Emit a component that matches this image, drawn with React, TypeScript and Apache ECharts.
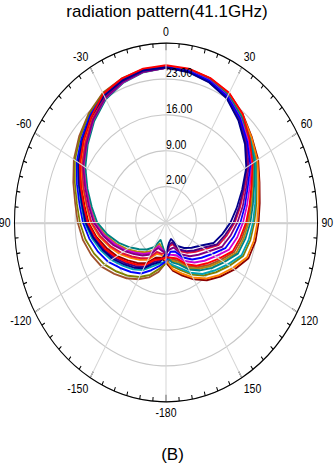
import React, { useEffect, useRef } from 'react';
import * as echarts from 'echarts';

// Angles (degrees) of every sample, -180 .. 180, step 10
const ANGLES = [
  -180, -170, -160, -150, -140, -130, -120, -110, -100, -90, -80, -70, -60, -50, -40, -30, -20, -10,
  0, 10, 20, 30, 40, 50, 60, 70, 80, 90, 100, 110, 120, 130, 140, 150, 160, 170, 180,
];

// Radial axis
const R_MIN = -5;
const R_MAX = 30;
const R_STEP = 7;
// Angle axis
const A_MIN = -180;
const A_MAX = 180;
const A_STEP = 30;

const TITLE = 'radiation pattern(41.1GHz)';
const CAPTION = '(B)';

// Series values (dB), one per angle above
const BROWN = [2.8, 4.8, 6.4, 7.8, 9.2, 10.6, 12.2, 13.4, 14.5, 15.4, 16.3, 17.8, 19.6, 21.2, 22.8, 24.2, 24.9, 25.4, 25.5, 25.2, 24.6, 23.7, 22.0, 20.1, 18.3, 16.2, 14.8, 13.8, 12.8, 11.8, 9.6, 7.9, 6.4, 4.8, 2.9, 2.3, 2.8];
const OLIVE = [3.0, 4.2, 5.9, 7.3, 8.6, 9.9, 11.4, 12.7, 13.9, 14.9, 15.9, 17.4, 19.3, 20.9, 22.6, 24.1, 24.8, 25.3, 25.5, 25.3, 24.8, 23.9, 22.4, 20.6, 19.1, 17.3, 16.2, 15.4, 14.8, 14.0, 11.9, 10.1, 8.5, 6.7, 4.9, 3.7, 3.0];
const DARKRED = [2.8, 2.0, 2.4, 4.2, 5.3, 6.5, 8.1, 9.6, 11.3, 12.9, 14.1, 15.8, 17.9, 19.7, 21.7, 23.4, 24.4, 25.1, 25.4, 25.4, 24.9, 24.1, 22.6, 20.9, 19.6, 18.0, 17.0, 16.4, 16.0, 15.3, 13.3, 11.4, 9.7, 7.8, 6.0, 4.6, 2.8];
const GOLD = [1.5, 0.1, -0.6, 1.4, 2.6, 3.8, 5.4, 7.2, 9.2, 11.3, 12.7, 14.6, 16.8, 18.8, 21.0, 22.9, 24.1, 24.9, 25.2, 25.2, 24.6, 23.7, 22.0, 20.2, 18.5, 16.5, 15.1, 14.1, 13.2, 12.3, 10.0, 8.3, 6.8, 5.2, 3.3, 2.6, 1.5];
const CYAN = [2.6, 3.1, 4.1, 5.7, 6.9, 8.1, 9.6, 11.0, 12.4, 13.8, 14.9, 16.5, 18.5, 20.3, 22.1, 23.7, 24.6, 25.2, 25.3, 25.3, 24.7, 23.9, 22.3, 20.5, 18.9, 17.1, 15.9, 15.1, 14.4, 13.6, 11.4, 9.6, 8.1, 6.3, 4.5, 3.4, 2.6];
const ORANGE = [2.4, 1.4, 1.5, 3.4, 4.5, 5.7, 7.3, 8.9, 10.7, 12.4, 13.7, 15.5, 17.6, 19.5, 21.5, 23.3, 24.3, 25.0, 25.3, 25.4, 24.9, 24.0, 22.5, 20.8, 19.4, 17.8, 16.7, 16.1, 15.6, 14.9, 12.8, 11.0, 9.3, 7.4, 5.6, 4.3, 2.4];
const TEAL = [1.6, -0.4, -1.4, 0.6, 1.9, 3.1, 4.7, 6.6, 8.7, 10.9, 12.4, 14.3, 16.5, 18.6, 20.8, 22.8, 24.0, 24.8, 25.2, 25.2, 24.7, 23.8, 22.1, 20.3, 18.6, 16.7, 15.4, 14.5, 13.6, 12.7, 10.5, 8.8, 7.2, 5.6, 3.7, 2.9, 1.6];
const MAGENTA = [1.2, 0.3, -0.1, 1.8, 3.0, 4.2, 5.8, 7.5, 9.5, 11.5, 12.9, 14.7, 17.0, 18.9, 21.1, 23.0, 24.1, 24.9, 25.2, 25.1, 24.5, 23.5, 21.7, 19.8, 17.8, 15.6, 14.0, 12.8, 11.7, 10.5, 8.2, 6.6, 5.2, 3.7, 1.8, 1.4, 1.2];
const CRIMSON = [1.0, 1.2, 1.1, 3.0, 4.1, 5.3, 6.9, 8.6, 10.4, 12.2, 13.5, 15.3, 17.4, 19.3, 21.4, 23.2, 24.3, 25.0, 25.3, 24.9, 24.2, 23.2, 21.2, 19.1, 16.8, 14.3, 12.4, 10.9, 9.3, 7.9, 5.4, 3.9, 2.7, 1.4, -0.5, -0.3, 1.0];
const PURPLE = [0.9, 0.6, 0.3, 2.2, 3.4, 4.6, 6.1, 7.9, 9.8, 11.7, 13.1, 14.9, 17.1, 19.0, 21.2, 23.1, 24.2, 24.9, 25.2, 25.0, 24.3, 23.3, 21.4, 19.3, 17.1, 14.7, 13.0, 11.5, 10.1, 8.8, 6.3, 4.8, 3.6, 2.2, 0.2, 0.3, 0.9];
const INDIGO = [1.3, 2.5, 3.2, 5.0, 6.1, 7.3, 8.8, 10.3, 11.9, 13.3, 14.5, 16.2, 18.2, 20.0, 21.9, 23.6, 24.5, 25.1, 25.2, 24.9, 24.2, 23.1, 21.2, 19.0, 16.6, 14.0, 12.1, 10.6, 8.9, 7.5, 4.9, 3.5, 2.3, 1.1, -0.9, -0.6, 1.3];
const BLUE = [2.6, 3.6, 4.9, 6.5, 7.6, 8.8, 10.4, 11.7, 13.0, 14.2, 15.3, 16.9, 18.8, 20.5, 22.3, 23.8, 24.7, 25.2, 25.4, 25.0, 24.4, 23.4, 21.6, 19.5, 17.5, 15.1, 13.5, 12.2, 10.9, 9.6, 7.3, 5.7, 4.4, 2.9, 1.0, 0.8, 2.6];
const NAVY = [1.0, 2.8, 3.6, 5.3, 6.5, 7.7, 9.2, 10.6, 12.1, 13.6, 14.7, 16.4, 18.4, 20.1, 22.0, 23.6, 24.5, 25.2, 25.3, 24.8, 24.1, 23.0, 21.0, 18.8, 16.4, 13.7, 11.6, 9.9, 8.2, 6.7, 4.1, 2.7, 1.5, 0.3, -1.6, -1.0, 1.0];
const RED = [1.8, 2.3, 2.8, 4.5, 5.7, 6.9, 8.4, 10.0, 11.5, 13.1, 14.3, 16.0, 18.0, 19.9, 21.9, 24.0, 24.9, 25.5, 25.7, 25.5, 25.0, 24.2, 22.6, 20.2, 18.1, 16.0, 14.6, 13.5, 12.4, 11.4, 9.1, 7.4, 6.0, 4.4, 2.5, 2.0, 1.8];

const SERIES: { name: string; color: string; values: number[] }[] = [
  { name: 'm1', color: '#a0522d', values: BROWN },
  { name: 'm2', color: '#808000', values: OLIVE },
  { name: 'm3', color: '#8b0000', values: DARKRED },
  { name: 'm4', color: '#b8860b', values: GOLD },
  { name: 'm5', color: '#00a0b4', values: CYAN },
  { name: 'm6', color: '#ff8000', values: ORANGE },
  { name: 'm7', color: '#008080', values: TEAL },
  { name: 'm8', color: '#d000d0', values: MAGENTA },
  { name: 'm9', color: '#e0103c', values: CRIMSON },
  { name: 'm10', color: '#800080', values: PURPLE },
  { name: 'm11', color: '#4b0082', values: INDIGO },
  { name: 'm12', color: '#0000ff', values: BLUE },
  { name: 'm13', color: '#00008b', values: NAVY },
  { name: 'm14', color: '#ff0000', values: RED },
];

// Layout (pixels)
const CX = 166;
const CY = 222.5;
const RADIUS = 151.5;
const SCALE_Y = 1.1835;
const FONT = '"Liberation Sans", Arial, sans-serif';

export default function App() {
  const chartRef = useRef<HTMLDivElement>(null);
  const textRef = useRef<HTMLDivElement>(null);

  useEffect(() => {
    if (!chartRef.current || !textRef.current) return;
    const chart = echarts.init(chartRef.current, undefined, { renderer: 'svg' });
    const polarBase = { center: [CX, CY], radius: RADIUS };
    const hiddenAngle = (idx: number, start: number) => ({
      polarIndex: idx,
      type: 'value',
      min: A_MIN,
      max: A_MAX,
      startAngle: start,
      show: false,
    });
    const hiddenRadius = (idx: number) => ({
      polarIndex: idx,
      type: 'value',
      min: R_MIN,
      max: R_MAX,
      interval: R_STEP,
      axisLine: { show: true, lineStyle: { color: '#cfcfcf', width: 2 } },
      axisTick: { show: false },
      axisLabel: { show: false },
      splitLine: { show: false },
    });
    chart.setOption({
      animation: false,
      backgroundColor: 'transparent',
      polar: [polarBase, polarBase, polarBase, polarBase],
      angleAxis: [
        {
          polarIndex: 0,
          type: 'value',
          min: A_MIN,
          max: A_MAX,
          interval: A_STEP,
          startAngle: 270,
          clockwise: true,
          z: 4,
          axisLine: { show: true, lineStyle: { color: '#000', width: 1 } },
          axisTick: { show: true, inside: true, length: 6, lineStyle: { color: '#000', width: 1 } },
          minorTick: { show: true, splitNumber: 6, length: 3.5, lineStyle: { color: '#000', width: 1 } },
          axisLabel: {
            show: true,
            margin: 4,
            color: '#000',
            fontSize: 10.5,
            fontFamily: FONT,
            formatter: (v: number) => (v === A_MAX ? '' : String(v)),
          },
          splitLine: { show: true, lineStyle: { color: '#d6d6d6', width: 1 } },
        },
        {
          polarIndex: 1,
          type: 'value',
          min: A_MIN,
          max: A_MAX,
          startAngle: 90,
          show: false,
        },
        hiddenAngle(2, 0),
        hiddenAngle(3, 180),
      ],
      radiusAxis: [
        {
          polarIndex: 0,
          type: 'value',
          min: R_MIN,
          max: R_MAX,
          interval: R_STEP,
          axisLine: { show: false },
          axisTick: { show: false },
          axisLabel: { show: false },
          splitLine: { show: true, lineStyle: { color: '#c8c8c8', width: 1 } },
        },
        {
          polarIndex: 1,
          type: 'value',
          min: R_MIN,
          max: R_MAX,
          interval: R_STEP,
          z: 5,
          axisLine: { show: false },
          axisTick: { show: false },
          splitLine: { show: false },
          axisLabel: {
            show: true,
            margin: 0,
            align: 'left',
            verticalAlign: 'bottom',
            color: '#000',
            fontSize: 10.5,
            fontFamily: FONT,
            formatter: (v: number) => (v === R_MIN || v === R_MAX ? '' : v.toFixed(2)),
          },
        },
        hiddenRadius(2),
        hiddenRadius(3),
      ],
      series: SERIES.map((s) => ({
        name: s.name,
        type: 'line',
        coordinateSystem: 'polar',
        polarIndex: 0,
        showSymbol: false,
        symbol: 'none',
        z: 3,
        lineStyle: { color: s.color, width: 1.7 },
        itemStyle: { color: s.color },
        data: s.values.map((r, i) => [r, ANGLES[i]]),
      })),
    });

    const texts = echarts.init(textRef.current, undefined, { renderer: 'svg' });
    texts.setOption({
      animation: false,
      graphic: [
        {
          type: 'text',
          x: 167,
          y: 11.5,
          style: { text: TITLE, fontSize: 17, fontFamily: FONT, fill: '#000', align: 'center', verticalAlign: 'middle' },
        },
        {
          type: 'text',
          x: 172.5,
          y: 454,
          style: { text: CAPTION, fontSize: 17, fontFamily: FONT, fill: '#000', align: 'center', verticalAlign: 'middle' },
        },
      ],
    });

    return () => {
      chart.dispose();
      texts.dispose();
    };
  }, []);

  return (
    <div style={{ position: 'fixed', left: 0, top: 0, width: 334, height: 466, background: '#fff', overflow: 'hidden' }}>
      <div
        ref={chartRef}
        style={{
          position: 'absolute',
          left: 0,
          top: 0,
          width: 334,
          height: 466,
          transform: `scaleY(${SCALE_Y})`,
          transformOrigin: `${CX}px ${CY}px`,
        }}
      />
      <div ref={textRef} style={{ position: 'absolute', left: 0, top: 0, width: 334, height: 466, pointerEvents: 'none' }} />
    </div>
  );
}
